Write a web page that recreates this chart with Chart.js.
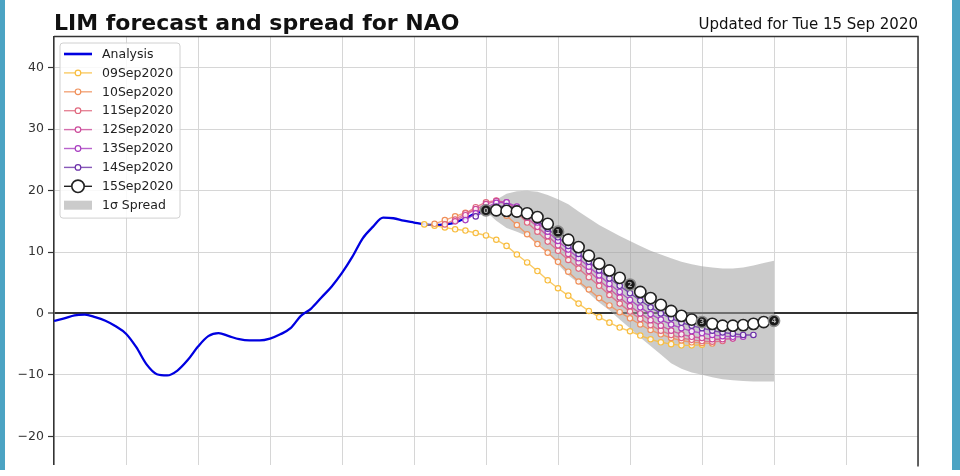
<!DOCTYPE html>
<html>
<head>
<meta charset="utf-8">
<script src="https://cdn.jsdelivr.net/npm/chart.js@4.4.0/dist/chart.umd.min.js"></script>
<style>
	html, body { margin: 0; padding: 0; background: #fff; overflow: hidden; }
	#wrap { position: relative; width: 960px; height: 476px; }
	#nao { position: absolute; left: 0; top: 0; }
	.edge { position: absolute; top: 0; height: 470px; background: #4ba3c3; }
</style>
</head>
<body>
<div id="wrap">
	<canvas id="nao" width="960" height="476"></canvas>
	<div class="edge" style="left:0;width:5px"></div>
	<div class="edge" style="left:952px;width:8px"></div>
</div>
<script>
const titleText = 'LIM forecast and spread for NAO'
const updatedText = 'Updated for Tue 15 Sep 2020'

// days relative to 15 Sep 2020
const analysisStart = -42
const analysis = [
	-1.2, -0.8, -0.3, -0.2, -0.6, -1.2, -2.1, -3.3, -5.5, -8.3, -9.9, -10.1, -9.3, -7.6, -5.4,
	-3.7, -3.2, -3.7, -4.2, -4.4, -4.4, -4.1, -3.4, -2.4, -0.4, 0.8, 2.6, 4.4, 6.6, 9.2,
	12.2, 14.1, 15.6, 15.5, 15.1, 14.8, 14.5, 14.4, 14.5, 14.8, 15.5, 16.3, 16.9,
]

const forecastNames = ['09Sep2020', '10Sep2020', '11Sep2020', '12Sep2020', '13Sep2020', '14Sep2020', '15Sep2020']
const forecastStarts = [-6, -5, -4, -3, -2, -1, 0]
const forecastColors = ['#f8bd3f', '#f0905a', '#e0687e', '#cc4a9a', '#a83cc0', '#6a2fa8']

const fc09 = [14.5, 14.3, 14.0, 13.7, 13.5, 13.1, 12.7, 12.0, 11.0, 9.6, 8.3, 6.9, 5.4, 4.1, 2.9, 1.6, 0.4, -0.6, -1.5, -2.3, -2.9, -3.6, -4.2, -4.7, -5.0, -5.2, -5.2, -5.1]
const fc10 = [14.6, 15.2, 15.8, 16.4, 16.9, 17.2, 16.9, 15.9, 14.4, 12.9, 11.3, 9.9, 8.4, 6.8, 5.2, 3.9, 2.5, 1.3, 0.2, -0.8, -1.8, -2.7, -3.4, -4.0, -4.4, -4.7, -4.8, -4.9]
const fc11 = [14.5, 15.3, 16.3, 17.3, 18.1, 18.4, 17.8, 16.4, 14.8, 13.3, 11.7, 10.2, 8.7, 7.3, 5.9, 4.5, 3.0, 1.6, 0.3, -0.9, -1.9, -2.8, -3.5, -4.0, -4.3, -4.5, -4.6, -4.5]
const fc12 = [15.0, 16.0, 17.0, 17.8, 18.3, 18.1, 17.0, 15.6, 14.1, 12.6, 11.1, 9.7, 8.3, 6.9, 5.4, 4.0, 2.6, 1.2, 0.0, -1.1, -2.0, -2.8, -3.4, -3.8, -4.0, -4.2, -4.2, -4.1]
const fc13 = [15.2, 16.3, 17.3, 18.0, 18.1, 17.4, 16.2, 14.8, 13.3, 11.8, 10.4, 9.0, 7.6, 6.2, 4.8, 3.5, 2.2, 1.0, -0.1, -1.0, -1.8, -2.4, -2.9, -3.2, -3.5, -3.7, -3.8, -3.8]
const fc14 = [15.8, 16.8, 17.4, 17.5, 17.1, 16.3, 15.1, 13.8, 12.4, 11.0, 9.7, 8.4, 7.0, 5.7, 4.5, 3.3, 2.1, 1.0, 0.0, -0.8, -1.5, -2.0, -2.4, -2.8, -3.1, -3.3, -3.5, -3.5]
const fc15 = [16.8, 16.8, 16.7, 16.6, 16.3, 15.7, 14.6, 13.3, 12.0, 10.8, 9.4, 8.1, 7.0, 5.8, 4.7, 3.5, 2.5, 1.4, 0.4, -0.4, -1.0, -1.4, -1.7, -2.0, -2.0, -1.9, -1.7, -1.4, -1.2]

const spreadUpper = [17.0, 18.5, 19.5, 19.9, 20.0, 19.8, 19.3, 18.6, 17.8, 16.6, 15.5, 14.4, 13.5, 12.6, 11.8, 11.0, 10.2, 9.6, 9.0, 8.4, 8.0, 7.7, 7.5, 7.3, 7.3, 7.5, 7.8, 8.2, 8.6]
const spreadLower = [16.6, 15.1, 13.9, 13.3, 12.6, 11.6, 9.9, 8.0, 6.2, 4.9, 3.3, 1.8, 0.5, -1.0, -2.4, -3.9, -5.3, -6.7, -8.1, -9.0, -9.6, -10.0, -10.4, -10.7, -10.9, -11.0, -11.1, -11.1, -11.1]

const weekDays = [0, 7, 14, 21, 28]
const yTicks = [-20, -10, 0, 10, 20, 30, 40]

const FONT = 'DejaVu Sans'

function toPoints(start, values) {
	return values.map((v, i) => ({ x: start + i, y: v }))
}

const forecastValues = [fc09, fc10, fc11, fc12, fc13, fc14]

const datasets = [
	{
		label: 'Analysis',
		data: toPoints(analysisStart, analysis),
		borderColor: '#0000e0',
		borderWidth: 2.3,
		pointRadius: 0,
		cubicInterpolationMode: 'monotone',
		order: 9,
	},
]

forecastValues.forEach((vals, i) => {
	datasets.push({
		label: forecastNames[i],
		data: toPoints(forecastStarts[i], vals),
		borderColor: forecastColors[i] + 'cc',
		borderWidth: 1.4,
		pointRadius: 2.7,
		pointBorderWidth: 1.2,
		pointBorderColor: forecastColors[i],
		pointBackgroundColor: 'rgba(255,255,255,0.85)',
		order: 7 - i,
	})
})

const isWeek = c => c.raw && weekDays.includes(c.raw.x)

datasets.push({
	label: forecastNames[6],
	data: toPoints(forecastStarts[6], fc15),
	borderColor: '#222',
	borderWidth: 1.5,
	pointRadius: 5.6,
	pointBorderWidth: 1.6,
	pointBackgroundColor: c => (isWeek(c) ? '#1a1a1a' : '#fff'),
	pointBorderColor: c => (isWeek(c) ? '#8a8a8a' : '#222'),
	order: 0,
	weekLabels: true,
})

datasets.push({
	label: '1\u03c3 Spread',
	data: toPoints(0, spreadUpper),
	borderWidth: 0,
	pointRadius: 0,
	fill: '+1',
	backgroundColor: 'rgba(160,160,160,0.55)',
	order: 11,
})
datasets.push({
	label: '',
	data: toPoints(0, spreadLower),
	borderWidth: 0,
	pointRadius: 0,
	fill: false,
	order: 12,
	skipLegend: true,
})

// titles, frame, legend and the week numbers on the 15Sep markers
const decorPlugin = {
	id: 'decor',
	afterDatasetsDraw(chart) {
		const ctx = chart.ctx
		chart.data.datasets.forEach((ds, i) => {
			if (!ds.weekLabels) return
			const meta = chart.getDatasetMeta(i)
			ctx.save()
			ctx.font = 'bold 7px "' + FONT + '"'
			ctx.fillStyle = '#b0b0b0'
			ctx.textAlign = 'center'
			ctx.textBaseline = 'middle'
			meta.data.forEach((el, j) => {
				const x = ds.data[j].x
				if (weekDays.includes(x)) ctx.fillText(String(weekDays.indexOf(x)), el.x, el.y + 0.5)
			})
			ctx.restore()
		})
	},
	afterDraw(chart) {
		const { ctx, chartArea: a } = chart
		ctx.save()
		// top and right spines
		ctx.strokeStyle = '#333'
		ctx.lineWidth = 1.5
		ctx.beginPath()
		ctx.moveTo(a.left, a.top)
		ctx.lineTo(a.right, a.top)
		ctx.lineTo(a.right, a.bottom + 2)
		ctx.stroke()

		ctx.fillStyle = '#111'
		ctx.textBaseline = 'alphabetic'
		ctx.font = 'bold 22px "' + FONT + '"'
		ctx.textAlign = 'left'
		ctx.fillText(titleText, a.left, 30)
		ctx.font = '15px "' + FONT + '"'
		ctx.textAlign = 'right'
		ctx.fillText(updatedText, a.right, 29)

		// legend
		const entries = chart.data.datasets.filter(d => d.label && !d.skipLegend)
		const bx = a.left + 6
		const by = a.top + 6.5
		const rowH = 18.9
		const bw = 120
		const bh = entries.length * rowH + 5
		ctx.beginPath()
		ctx.roundRect(bx, by, bw, bh, 3)
		ctx.fillStyle = 'rgba(255,255,255,0.85)'
		ctx.fill()
		ctx.strokeStyle = '#d0d0d0'
		ctx.lineWidth = 1
		ctx.stroke()
		entries.forEach((d, k) => {
			const cy = by + 11 + k * rowH
			const x0 = bx + 4
			const x1 = bx + 32
			if (d.fill) {
				ctx.fillStyle = d.backgroundColor
				ctx.fillRect(x0, cy - 4.5, x1 - x0, 9)
			} else {
				ctx.strokeStyle = d.borderColor
				ctx.lineWidth = d.label === 'Analysis' ? 2.6 : 1.4
				ctx.beginPath()
				ctx.moveTo(x0, cy)
				ctx.lineTo(x1, cy)
				ctx.stroke()
				if (d.pointRadius > 0) {
					const big = d.pointRadius > 4
					ctx.beginPath()
					ctx.arc((x0 + x1) / 2, cy, big ? 6.2 : 2.8, 0, Math.PI * 2)
					ctx.fillStyle = '#fff'
					ctx.fill()
					ctx.strokeStyle = big ? '#222' : d.pointBorderColor
					ctx.lineWidth = big ? 1.6 : 1.2
					ctx.stroke()
				}
			}
			ctx.fillStyle = '#222'
			ctx.font = '12.5px "' + FONT + '"'
			ctx.textAlign = 'left'
			ctx.textBaseline = 'middle'
			ctx.fillText(d.label, bx + 42, cy + 0.5)
		})
		ctx.restore()
	},
}

const naoChart = new Chart(document.getElementById('nao').getContext('2d'), {
	type: 'line',
	data: { datasets },
	options: {
		responsive: false,
		animation: false,
		devicePixelRatio: 1,
		layout: { padding: { left: 0, right: 42, top: 36.5, bottom: 6 } },
		plugins: {
			legend: { display: false },
			tooltip: { enabled: false },
			title: { display: false },
		},
		scales: {
			x: {
				type: 'linear',
				min: -42,
				max: 42,
				ticks: { stepSize: 7, display: false },
				grid: { color: '#d6d6d6', drawTicks: false },
				border: { display: false },
				afterFit: s => {
					s.height = 0
				},
			},
			y: {
				min: -24.6,
				max: 45.1,
				afterBuildTicks: s => {
					s.ticks = yTicks.map(v => ({ value: v }))
				},
				afterFit: s => {
					s.width = 54
				},
				ticks: {
					font: { family: FONT, size: 12.5 },
					color: '#333',
					padding: 4,
					callback: v => (v < 0 ? '\u2212' + Math.abs(v) : String(v)),
				},
				grid: {
					color: c => (c.tick && c.tick.value === 0 ? '#333' : '#d6d6d6'),
					lineWidth: c => (c.tick && c.tick.value === 0 ? 2 : 1),
					tickColor: '#333',
					tickLength: 6,
					tickWidth: 1.2,
				},
				border: { color: '#333', width: 1.5 },
			},
		},
	},
	plugins: [decorPlugin],
})
</script>
</body>
</html>
